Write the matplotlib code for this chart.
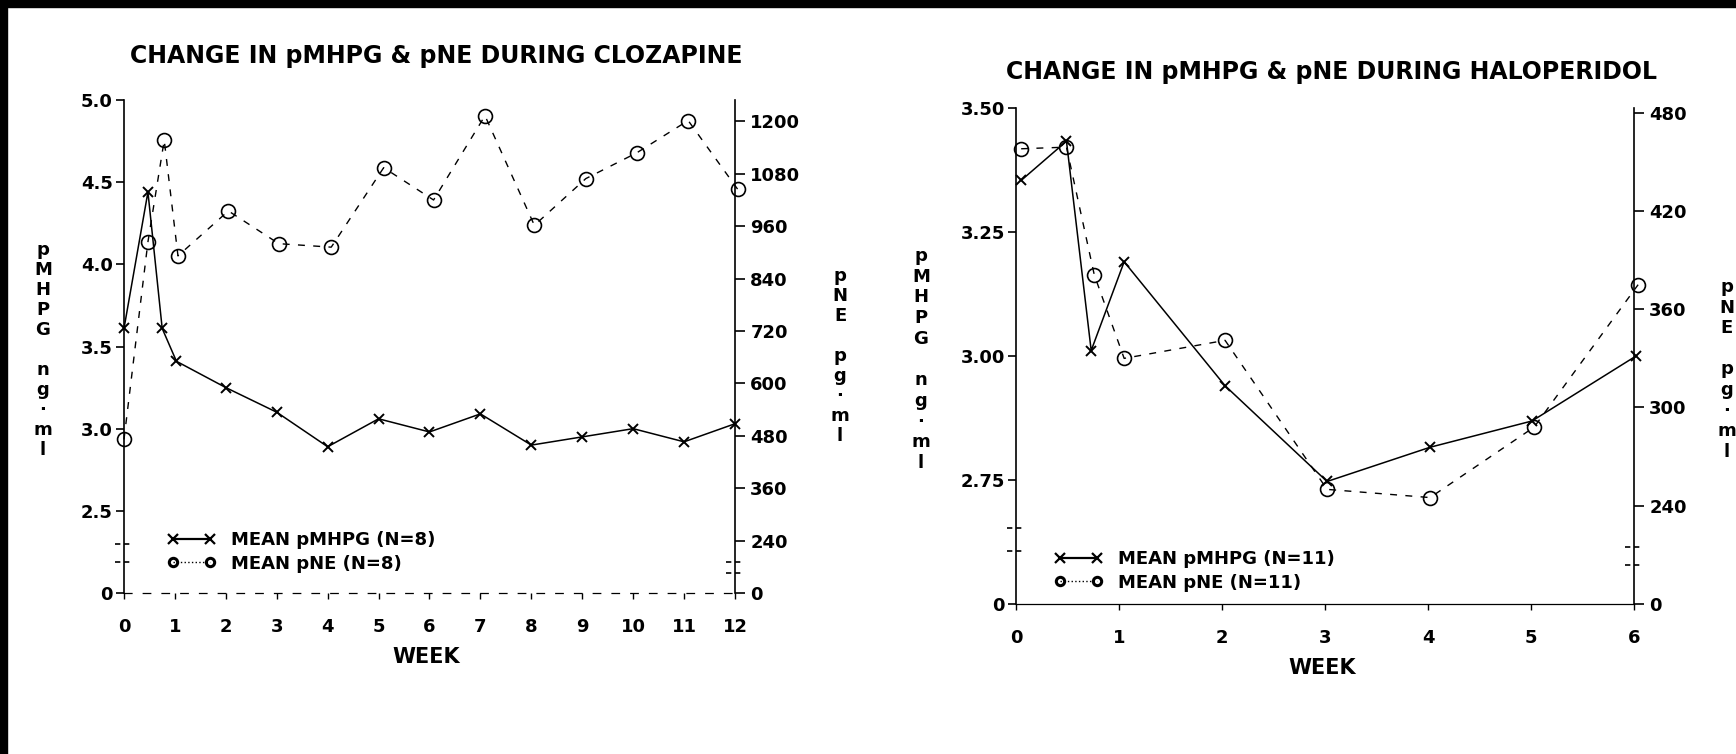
import matplotlib
matplotlib.use("Agg")
import matplotlib.pyplot as plt
from matplotlib.lines import Line2D
from matplotlib.patches import Rectangle

plt.rcParams['font.family'] = ['DejaVu Sans']
plt.rcParams['font.weight'] = 'bold'

# ---- clozapine panel (N=8) ----
cloz_weeks_mhpg = [0, 0.47, 0.75, 1.03, 2, 3, 4, 5, 6, 7, 8, 9, 10, 11, 12]
cloz_mhpg = [3.61, 4.44, 3.61, 3.41, 3.25, 3.10, 2.89, 3.06, 2.98, 3.09, 2.90, 2.95, 3.00, 2.92, 3.03]
cloz_weeks_ne = [0, 0.47, 0.79, 1.06, 2.05, 3.04, 4.07, 5.1, 6.08, 7.09, 8.06, 9.07, 10.07, 11.08, 12.05]
cloz_ne = [472, 924, 1157, 892, 995, 920, 912, 1094, 1020, 1213, 962, 1069, 1128, 1202, 1045]

cloz_xticks = list(range(13))
cloz_yticks = [2.0, 2.5, 3.0, 3.5, 4.0, 4.5, 5.0]
cloz_ylabels = ['0', '2.5', '3.0', '3.5', '4.0', '4.5', '5.0']
cloz_y2ticks = [120, 240, 360, 480, 600, 720, 840, 960, 1080, 1200]
cloz_y2labels = ['0', '240', '360', '480', '600', '720', '840', '960', '1080', '1200']

# ---- haloperidol panel (N=11) ----
hal_weeks_mhpg = [0.05, 0.49, 0.73, 1.05, 2.03, 3.02, 4.02, 5.01, 6.02]
hal_mhpg = [3.354, 3.433, 3.011, 3.19, 2.94, 2.747, 2.816, 2.869, 3.00]
hal_weeks_ne = [0.05, 0.49, 0.76, 1.05, 2.03, 3.02, 4.02, 5.03, 6.04]
hal_ne = [458, 459, 381, 330, 341, 250, 245, 288, 375]

hal_xticks = list(range(7))
hal_yticks = [2.5, 2.75, 3.0, 3.25, 3.5]
hal_ylabels = ['0', '2.75', '3.00', '3.25', '3.50']
hal_y2ticks = [180, 240, 300, 360, 420, 480]
hal_y2labels = ['0', '240', '300', '360', '420', '480']

W, H = 1736, 754
fig = plt.figure(figsize=(W / 100, H / 100), dpi=100)
fig.patch.set_facecolor('white')


def fx(px):
    return px / W


def fy(py):
    return 1 - py / H


def stacked(x, y0, letters, pitch=20):
    # vertical axis titles are written one upright letter per row
    for i, ch in enumerate(letters):
        if ch.strip():
            fig.text(fx(x), fy(y0 + i * pitch), ch, ha='center', va='center',
                     fontsize=13, fontweight='bold')


def break_marks(ax, values, xpos, half):
    for v in values:
        ax.plot([xpos - half, xpos + half], [v, v], transform=ax.get_yaxis_transform(),
                color='k', lw=1.2, ls=(0, (3.2, 2.2)), clip_on=False)


def panel(rect, weeks_m, mhpg, weeks_n, ne, ylim, y2lim, xticks, yticks, ylabels,
          y2ticks, y2labels, brk1, brk2, bottom_ls):
    ax = fig.add_axes(rect)
    ax2 = ax.twinx()
    ax.plot(weeks_m, mhpg, color='k', lw=1.1, marker='x', ms=7, mew=1.4, clip_on=False, zorder=3)
    ax2.plot(weeks_n, ne, color='k', lw=1.0, ls=(0, (5, 6)), marker='o', ms=10,
             mfc='none', mec='k', mew=1.2, clip_on=False, zorder=3)
    ax.set_xlim(0, xticks[-1])
    ax.set_ylim(*ylim)
    ax2.set_ylim(*y2lim)
    ax.set_xticks(xticks)
    ax.set_xticklabels([str(t) for t in xticks])
    ax.set_yticks(yticks)
    ax.set_yticklabels(ylabels)
    ax2.set_yticks(y2ticks)
    ax2.set_yticklabels(y2labels)
    for a in (ax, ax2):
        a.spines['top'].set_visible(False)
        a.patch.set_visible(False)
    ax.spines['right'].set_visible(False)
    ax2.spines['left'].set_visible(False)
    ax2.spines['bottom'].set_visible(False)
    ax.spines['left'].set_linewidth(1.2)
    ax2.spines['right'].set_linewidth(1.2)
    ax.spines['bottom'].set_linewidth(0.9)
    ax.spines['bottom'].set_linestyle(bottom_ls)
    ax.tick_params(axis='y', direction='out', length=6, width=1.2, pad=2, labelsize=13)
    ax.tick_params(axis='x', direction='out', length=4, width=1.0, pad=14, labelsize=13)
    ax2.tick_params(axis='y', direction='out', length=7, width=1.2, pad=4, labelsize=13)
    half = 9 / (rect[2] * W)
    break_marks(ax, brk1, 0, half)
    break_marks(ax2, brk2, 1, half)
    return ax, ax2


ax_c, ax_c2 = panel([fx(124), fy(593), (735 - 124) / W, (593 - 100) / H],
                    cloz_weeks_mhpg, cloz_mhpg, cloz_weeks_ne, cloz_ne,
                    (2.0, 5.0), (132.7, 1249), cloz_xticks, cloz_yticks, cloz_ylabels,
                    cloz_y2ticks, cloz_y2labels, [2.298, 2.189], [192, 165], (0, (6, 9)))

ax_h, ax_h2 = panel([fx(1016), fy(604), (1634 - 1016) / W, (604 - 108) / H],
                    hal_weeks_mhpg, hal_mhpg, hal_weeks_ne, hal_ne,
                    (2.5, 3.5), (183.6, 482.9), hal_xticks, hal_yticks, hal_ylabels,
                    hal_y2ticks, hal_y2labels, [2.653, 2.607], [215, 204], '-')

# legends
for ax, n, xy in ((ax_c, 8, (168, 552)), (ax_h, 11, (1055, 571))):
    h1 = Line2D([], [], color='k', lw=1.6, marker='x', ms=7, mew=1.6)
    h2 = Line2D([], [], color='k', lw=1.0, ls=':', marker='o', ms=6, mfc='none', mew=2.2)
    ax.legend([h1, h2], ['MEAN pMHPG (N=%d)' % n, 'MEAN pNE (N=%d)' % n],
              loc='center left', bbox_to_anchor=(fx(xy[0]), fy(xy[1])),
              bbox_transform=fig.transFigure, frameon=False, numpoints=2,
              fontsize=13, handlelength=2.6, handletextpad=0.9, labelspacing=0.3,
              borderpad=0, borderaxespad=0)

# titles and axis words
fig.text(fx(436), fy(56), 'CHANGE IN pMHPG & pNE DURING CLOZAPINE', ha='center', va='center',
         fontsize=17, fontweight='bold')
fig.text(fx(1332), fy(72), 'CHANGE IN pMHPG & pNE DURING HALOPERIDOL', ha='center', va='center',
         fontsize=17, fontweight='bold')
fig.text(fx(426), fy(657), 'WEEK', ha='center', va='center', fontsize=15, fontweight='bold')
fig.text(fx(1322), fy(668), 'WEEK', ha='center', va='center', fontsize=15, fontweight='bold')

stacked(43, 250, list('pMHPG') + [' '] + list('ng·ml'))
stacked(840, 276, list('pNE') + [' '] + list('pg·ml'))
stacked(921, 256, list('pMHPG') + [' '] + list('ng·ml'), pitch=20.7)
stacked(1727, 287, list('pNE') + [' '] + list('pg·ml'), pitch=20.6)

# scan border
fig.add_artist(Rectangle((0, fy(7)), 1, 7 / H, transform=fig.transFigure, color='k'))
fig.add_artist(Rectangle((0, 0), 7 / W, 1, transform=fig.transFigure, color='k'))

fig.savefig('out.png', dpi=100)
